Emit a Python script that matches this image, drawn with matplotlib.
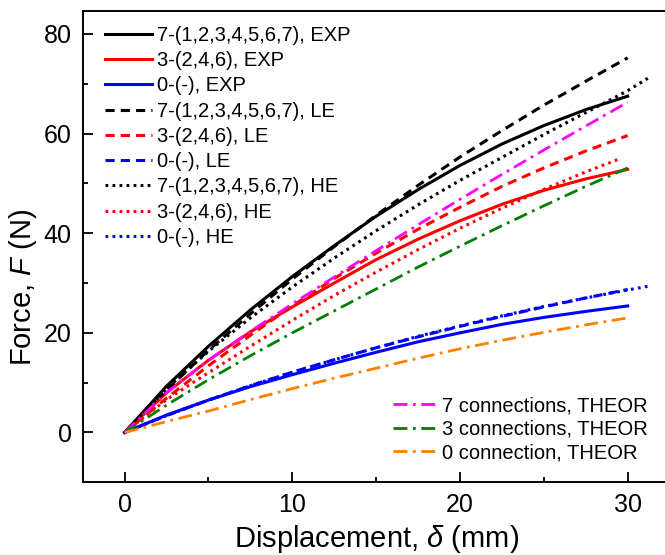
import matplotlib
matplotlib.use("Agg")
import matplotlib.pyplot as plt

plt.rcParams['font.family'] = ['Liberation Sans', 'DejaVu Sans']
plt.rcParams['mathtext.fontset'] = 'custom'
plt.rcParams['mathtext.it'] = 'Liberation Sans:italic'
plt.rcParams['mathtext.rm'] = 'Liberation Sans'

# ---- data ----
x_std = [0, 2.5, 5, 7.5, 10, 12.5, 15, 17.5, 20, 22.5, 25, 27.5, 30]

exp7 = [0, 9.3, 17.3, 24.6, 31.3, 37.5, 43.4, 48.75, 53.6, 57.9, 61.6, 64.8, 67.5]
exp3 = [0, 8.0, 14.5, 20.2, 25.2, 30.0, 34.7, 38.8, 42.5, 45.8, 48.6, 50.9, 52.8]
exp0 = [0, 3.5, 6.5, 9.2, 11.6, 13.9, 16.1, 18.2, 20.0, 21.7, 23.1, 24.3, 25.4]

le7 = [0, 8.5, 16.5, 23.8, 30.8, 37.3, 43.6, 49.6, 55.3, 60.6, 65.7, 70.5, 75.2]
le3 = [0, 6.9, 13.4, 19.5, 25.4, 30.9, 36.0, 40.8, 45.2, 49.4, 53.1, 56.5, 59.6]
le0 = [0, 3.4, 6.5, 9.4, 12.1, 14.6, 17.0, 19.2, 21.3, 23.3, 25.2, 27.0, 28.7]

x_he7 = [0, 2.5, 5, 7.5, 10, 12.5, 15, 17.5, 20, 22.5, 25, 27.5, 30, 31.2]
he7 = [0, 8.8, 16.3, 23.0, 29.2, 35.0, 40.5, 45.7, 50.6, 55.2, 59.8, 64.2, 68.6, 71.1]
x_he3 = [0, 2.5, 5, 7.5, 10, 12.5, 15, 17.5, 20, 22.5, 25, 27.5, 29.5]
he3 = [0, 6.6, 12.0, 17.3, 22.5, 27.5, 32.2, 36.7, 41.0, 45.0, 48.8, 52.3, 54.9]
x_he0 = [0, 2.5, 5, 7.5, 10, 12.5, 15, 17.5, 20, 22.5, 25, 27.5, 30, 31.3]
he0 = [0, 3.4, 6.5, 9.4, 12.1, 14.6, 17.0, 19.3, 21.4, 23.4, 25.3, 27.0, 28.6, 29.4]

theor7 = [0, 8.0, 14.5, 20.3, 25.8, 31.2, 36.5, 41.7, 46.8, 51.8, 56.7, 61.5, 66.3]
theor3 = [0, 5.5, 10.6, 15.4, 20.0, 24.4, 28.8, 33.2, 37.4, 41.5, 45.5, 49.4, 53.1]
theor0 = [0, 2.2, 4.3, 6.6, 8.8, 10.9, 12.9, 14.9, 16.8, 18.5, 20.1, 21.6, 23.0]

labels_main = ["7-(1,2,3,4,5,6,7), EXP", "3-(2,4,6), EXP", "0-(-), EXP",
               "7-(1,2,3,4,5,6,7), LE", "3-(2,4,6), LE", "0-(-), LE",
               "7-(1,2,3,4,5,6,7), HE", "3-(2,4,6), HE", "0-(-), HE"]
labels_theor = ["7 connections, THEOR", "3 connections, THEOR", "0 connection, THEOR"]

x_ticks = [0, 10, 20, 30]
y_ticks = [0, 20, 40, 60, 80]

# ---- figure ----
W, H = 665, 555
fig = plt.figure(figsize=(W / 100, H / 100), dpi=100)
left_px, right_px, top_px, bottom_px = 82.7, 669.6, 11.0, 482.3
aw, ah = right_px - left_px, bottom_px - top_px
ax = fig.add_axes([left_px / W, (H - bottom_px) / H, aw / W, ah / H])

lw = 2.0
dash = (3.0, 2.0)
dot = (0.9, 1.4)
dashdot = (5, 2, 1, 2)

series = [
    (x_std, exp7, 'black', None),
    (x_std, exp3, 'red', None),
    (x_std, exp0, 'blue', None),
    (x_std, le7, 'black', dash),
    (x_std, le3, 'red', dash),
    (x_std, le0, 'blue', dash),
    (x_he7, he7, 'black', dot),
    (x_he3, he3, 'red', dot),
    (x_he0, he0, 'blue', dot),
]
main_handles = []
for (xs, ys, c, d), lab in zip(series, labels_main):
    if d is None:
        h, = ax.plot(xs, ys, color=c, lw=lw + 0.2, label=lab)
    else:
        h, = ax.plot(xs, ys, color=c, lw=lw + 0.2, linestyle=(0, d), label=lab)
    main_handles.append(h)

theor_handles = []
for ys, c, lab in zip([theor7, theor3, theor0], ['#FF00FF', '#008000', '#FF8000'], labels_theor):
    h, = ax.plot(x_std, ys, color=c, lw=lw, linestyle=(0, dashdot), label=lab)
    theor_handles.append(h)

ax.set_xlim(-2.5, 32.5)
ax.set_ylim(-9.8, 84.6)
ax.set_xticks(x_ticks)
ax.set_yticks(y_ticks)
ax.set_xticks([5, 15, 25], minor=True)
ax.set_yticks([-10, 10, 30, 50, 70], minor=True)
ax.tick_params(which='both', direction='in', width=1.3, labelsize=18, pad=8)
ax.tick_params(which='major', length=7.2)
ax.tick_params(which='minor', length=3.6)
ax.tick_params(top=False, right=False)
for s in ax.spines.values():
    s.set_linewidth(1.4)

ax.set_xlabel(r'Displacement, $\mathit{\delta}$ (mm)', fontsize=21)
ax.set_ylabel(r'Force, $\mathit{F}$ (N)', fontsize=21)
ax.yaxis.set_label_coords((39 - left_px) / aw, (bottom_px - 287) / ah)

leg1 = ax.legend(handles=main_handles, loc='upper left', frameon=False, fontsize=14.5,
                 handlelength=2.33, handletextpad=0.25, labelspacing=0.31,
                 bbox_to_anchor=((105 - left_px) / aw, (bottom_px - 26) / ah),
                 borderaxespad=0, borderpad=0)
ax.add_artist(leg1)
ax.legend(handles=theor_handles, loc='upper left', frameon=False, fontsize=14.5,
          handlelength=2.33, handletextpad=0.08, labelspacing=0.22,
          bbox_to_anchor=((393 - left_px) / aw, (bottom_px - 396.5) / ah),
          borderaxespad=0, borderpad=0)

fig.savefig('out.png', dpi=100)
